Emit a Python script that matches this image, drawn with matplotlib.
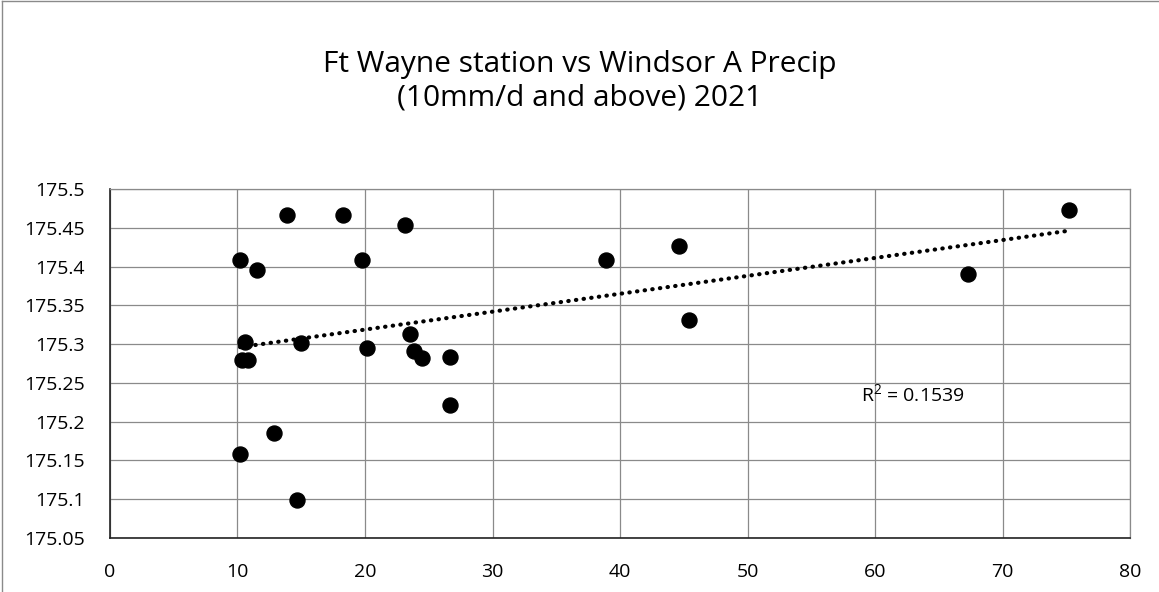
import numpy as np
import matplotlib
matplotlib.use("Agg")
import matplotlib.pyplot as plt

plt.rcParams['font.family'] = ['Open Sans', 'DejaVu Sans']
plt.rcParams['mathtext.fontset'] = 'custom'
plt.rcParams['mathtext.rm'] = 'Open Sans'
plt.rcParams['mathtext.it'] = 'Open Sans'

# Daily precipitation at Windsor A (mm/d, days with 10 mm and above)
precip = [10.2, 11.5, 10.6, 10.35, 10.85, 10.2, 12.9, 14.7, 13.9, 15.0,
          18.25, 19.75, 20.15, 23.15, 23.55, 23.85, 24.5, 26.7, 26.65,
          38.9, 44.6, 45.4, 67.3, 75.2]
# Ft Wayne station water level (m)
level = [175.409, 175.396, 175.303, 175.279, 175.279, 175.158, 175.185,
         175.099, 175.466, 175.302, 175.467, 175.409, 175.295, 175.453,
         175.313, 175.291, 175.282, 175.284, 175.222, 175.409, 175.427,
         175.331, 175.391, 175.473]

title_text = "Ft Wayne station vs Windsor A Precip\n(10mm/d and above) 2021"
r2_text = r"R$^{2}$ = 0.1539"
x_ticks = [0, 10, 20, 30, 40, 50, 60, 70, 80]
y_ticks = [175.05, 175.1, 175.15, 175.2, 175.25, 175.3, 175.35, 175.4, 175.45, 175.5]
y_tick_labels = ["175.05", "175.1", "175.15", "175.2", "175.25", "175.3",
                 "175.35", "175.4", "175.45", "175.5"]

fig = plt.figure(figsize=(11.59, 5.92), dpi=100)
fig.patch.set_facecolor("white")

# outer chart frame (left and top edges)
fig.add_artist(plt.Line2D([0.002, 0.002], [0, 0.998], transform=fig.transFigure,
                          color="#8a8a8a", lw=1.0))
fig.add_artist(plt.Line2D([0.002, 1.0], [0.998, 0.998], transform=fig.transFigure,
                          color="#8a8a8a", lw=1.0))

fig.text(0.5, 0.862, title_text, ha="center", va="center", fontsize=21.5,
         linespacing=1.2, color="black")

ax = fig.add_axes([0.0949, 0.0912, 0.8801, 0.5895])
ax.set_xlim(0, 80)
ax.set_ylim(175.05, 175.5)
ax.set_xticks(x_ticks)
ax.set_yticks(y_ticks)
ax.set_yticklabels(y_tick_labels)
ax.tick_params(axis="both", length=0, labelsize=14, colors="black")
ax.tick_params(axis="y", pad=18)
ax.tick_params(axis="x", pad=18)
ax.grid(True, color="#8a8a8a", lw=0.9)
ax.set_axisbelow(True)
for side in ("top", "right"):
    ax.spines[side].set_color("#8a8a8a")
    ax.spines[side].set_linewidth(0.9)
for side in ("left", "bottom"):
    ax.spines[side].set_color("#222222")
    ax.spines[side].set_linewidth(1.2)

ax.plot(precip, level, "o", color="black", markersize=10.8, zorder=3)

# linear trend line over the data range
xs = np.array(precip)
ys = np.array(level)
slope, intercept = np.polyfit(xs, ys, 1)
xline = np.array([xs.min(), xs.max()])
ax.plot(xline, slope * xline + intercept, color="black", lw=3.0,
        linestyle=(0, (0.1, 1.75)), dash_capstyle="round", zorder=2)

ax.text(58.9, 175.236, r2_text, fontsize=14, ha="left", va="center",
        color="black")

fig.savefig("out.png", dpi=100, facecolor="white")
